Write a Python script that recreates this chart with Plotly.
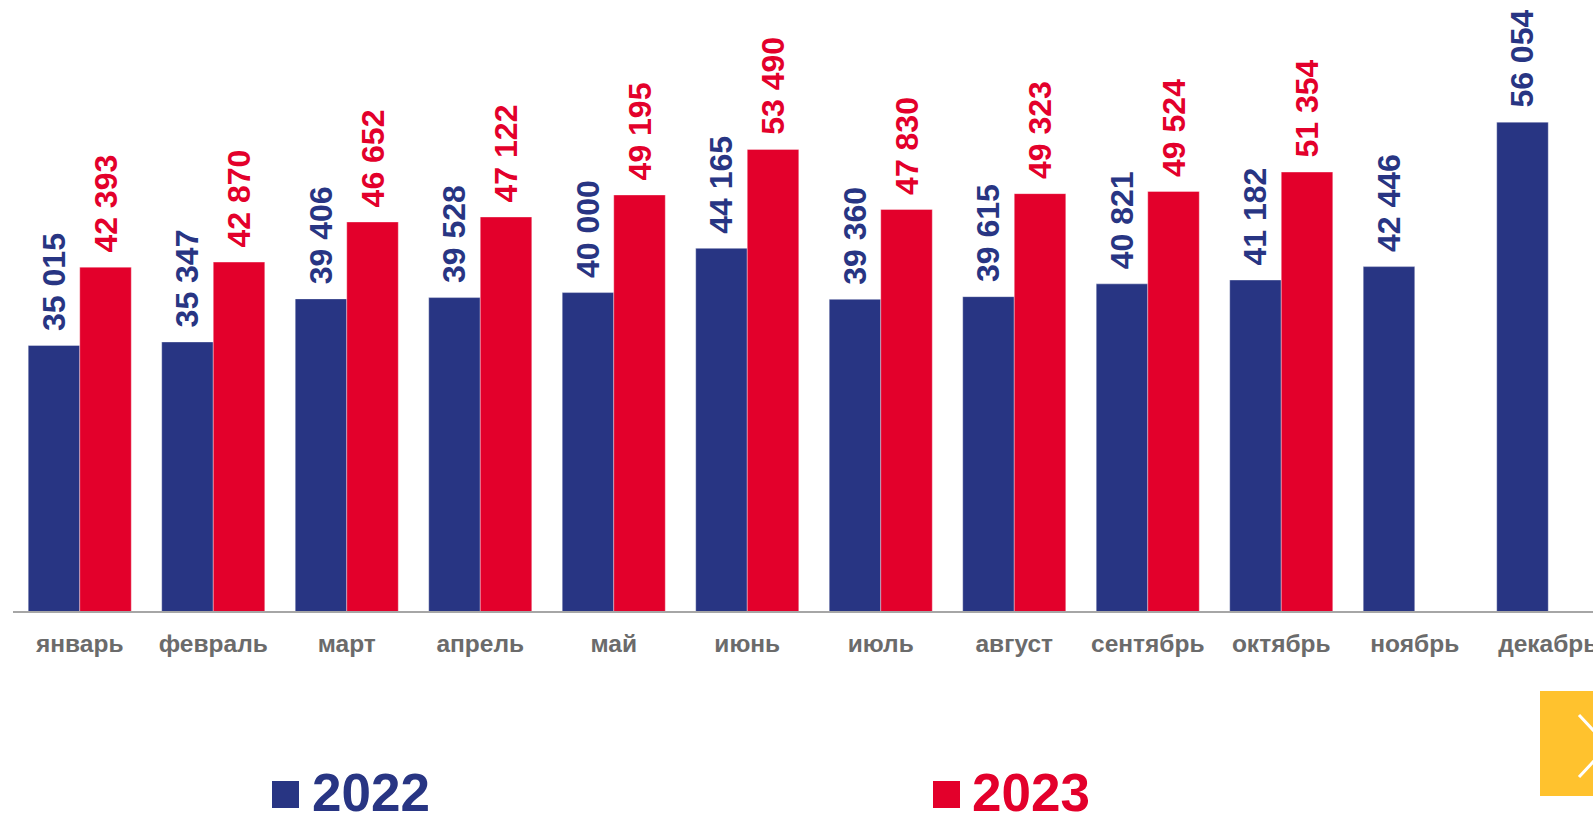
import plotly.graph_objects as go

months = ["январь", "февраль", "март", "апрель", "май", "июнь",
          "июль", "август", "сентябрь", "октябрь", "ноябрь", "декабрь"]
values_2022 = [35015, 35347, 39406, 39528, 40000, 44165, 39360, 39615, 40821, 41182, 42446, 56054]
values_2023 = [42393, 42870, 46652, 47122, 49195, 53490, 47830, 49323, 49524, 51354, None, None]
series_names = ["2022", "2023"]

BLUE = "#283583"
RED = "#E3002B"
GRAY = "#6b6b6b"

W, H = 1593, 813
ML, MT = 13, 0
PLOT_H = 611
MB = H - MT - PLOT_H
PLOT_W = W - ML


def px_x(px):
    return (px - ML) / PLOT_W


def px_y(py):
    return (MT + PLOT_H - py) / PLOT_H


fig = go.Figure()
for name, vals, col in [(series_names[0], values_2022, BLUE), (series_names[1], values_2023, RED)]:
    fig.add_trace(go.Bar(
        x=months, y=vals, name=name,
        marker=dict(color=col, line=dict(color="rgba(255,255,255,0.6)", width=0.6)),
        texttemplate="\u00a0\u200a%{y:,}",
        textposition="outside", textangle=-90, constraintext="none",
        textfont=dict(family="Arial", size=32, color=col, weight="bold"),
        cliponaxis=False,
        showlegend=False,
    ))

shapes = []
annotations = []
# legend built from annotations and squares
for name, col, sq_x, txt_x in [(series_names[0], BLUE, 272, 310), (series_names[1], RED, 933, 970)]:
    shapes.append(dict(type="rect", xref="paper", yref="paper",
                       x0=px_x(sq_x), x1=px_x(sq_x + 27), y0=px_y(808), y1=px_y(781),
                       fillcolor=col, line=dict(width=0)))
    annotations.append(dict(xref="paper", yref="paper", x=px_x(txt_x), y=px_y(792),
                            xanchor="left", yanchor="middle", showarrow=False, text=name,
                            font=dict(family="Arial", size=53, color=col, weight="bold")))

# yellow navigation button
shapes.append(dict(type="rect", xref="paper", yref="paper",
                   x0=px_x(1540), x1=px_x(1600), y0=px_y(796), y1=px_y(691),
                   fillcolor="#FFC22E", line=dict(width=0)))
shapes.append(dict(type="path", xref="paper", yref="paper",
                   path=f"M {px_x(1579)} {px_y(715)} L {px_x(1608)} {px_y(746)} L {px_x(1579)} {px_y(777)}",
                   line=dict(color="white", width=3)))

fig.update_layout(
    width=W, height=H,
    margin=dict(l=ML, r=0, t=MT, b=MB, autoexpand=False),
    paper_bgcolor="white", plot_bgcolor="white",
    barmode="group", bargap=0.228, bargroupgap=0,
    separators=". ",
    shapes=shapes, annotations=annotations,
    xaxis=dict(
        range=[-0.5, -0.5 + PLOT_W / 133.5],
        showline=True, linecolor="#a6a6a6", linewidth=1.5,
        showgrid=False, zeroline=False, ticks="", automargin=False,
        tickfont=dict(family="Arial", size=24.5, color=GRAY, weight="bold"),
        ticklabelstandoff=10,
    ),
    yaxis=dict(range=[10000, 10000 + PLOT_H / 0.010614], visible=False,
               showgrid=False, zeroline=False, automargin=False),
)

fig.write_html("out.html", config={"displayModeBar": False},
               post_script="document.body.style.margin='0';document.body.style.overflow='hidden';")
